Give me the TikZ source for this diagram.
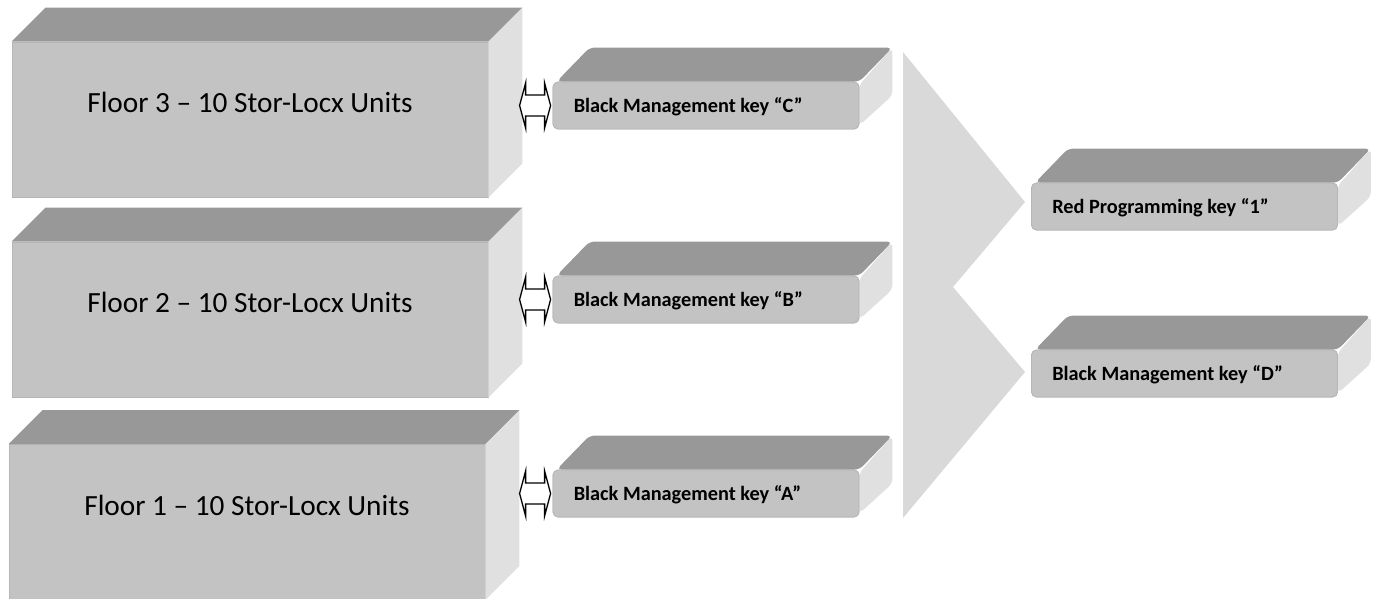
\documentclass[tikz,border=0pt]{standalone}
\usepackage{fontspec}
\setmainfont{Carlito}
\definecolor{topgray}{RGB}{152,152,152}
\definecolor{frontgray}{RGB}{195,195,195}
\definecolor{sidegray}{RGB}{224,224,224}
\definecolor{edgegray}{RGB}{182,182,182}
\definecolor{chevgray}{RGB}{217,217,217}
\begin{document}
\begin{tikzpicture}[x=1pt,y=1pt,
  floorfront/.style={rectangle,fill=frontgray,draw=edgegray,line width=0.8pt,
    minimum width=476pt,minimum height=155pt,inner sep=0pt},
  keyfront/.style={rectangle,rounded corners=5pt,fill=frontgray,draw=edgegray,line width=0.8pt,
    minimum width=306pt,minimum height=47pt,inner sep=0pt},
  topface/.style={fill=topgray},
  sideface/.style={fill=sidegray},
  floortext/.style={font=\fontsize{29.3}{35}\selectfont,inner sep=0pt,anchor=base},
  keytext/.style={font=\fontsize{20.3}{24}\selectfont\bfseries,inner sep=0pt,anchor=base west},
  dblarrow/.style={fill=white,draw=black,line width=1.3pt,line join=miter},
  chev/.style={fill=chevgray}
]
\useasboundingbox (0,0) rectangle (1377,-599);

% ---------- floor boxes ----------
\newcommand{\floorbox}[4]{% name, x, y, text
  \node[floorfront] (#1) at (#2,#3) {};
  \fill[topface] (#1.north west) -- ++(34,34) -- ([shift={(34,34)}]#1.north east) -- (#1.north east) -- cycle;
  \fill[sideface] (#1.north east) -- ++(34,34) -- ([shift={(34,34)}]#1.south east) -- (#1.south east) -- cycle;
  \node[floortext] (#1t) at ([yshift=-71pt]#1.north) {#4};
}
\floorbox{f3}{250}{-119.5}{Floor 3 – 10 Stor-Locx Units}
\floorbox{f2}{250}{-319.5}{Floor 2 – 10 Stor-Locx Units}
\floorbox{f1}{247}{-522}{Floor 1 – 10 Stor-Locx Units}

% ---------- key boxes ----------
\newcommand{\keybox}[4]{% name, x, y, text
  \node[keyfront] (#1) at (#2,#3) {};
  \fill[topface,rounded corners=5pt] ([xshift=4pt]#1.north west) -- ++(33,34) -- ([shift={(33,34)}]#1.north east) -- (#1.north east) -- cycle;
  \fill[sideface,rounded corners=5pt] ([yshift=-3pt]#1.north east) -- ++(33,37) -- ([shift={(33,34)}]#1.south east) -- ([yshift=4pt]#1.south east) -- cycle;
  \node[keyfront] at (#2,#3) {};
  \node[keytext] (#1t) at ([xshift=21pt,yshift=-7pt]#1.west) {#4};
}
\keybox{kC}{706}{-105.5}{Black Management key “C”}
\keybox{kB}{706}{-299.5}{Black Management key “B”}
\keybox{kA}{706}{-493.5}{Black Management key “A”}
\keybox{kR}{1184.5}{-206.5}{Red Programming key “1”}
\keybox{kD}{1184.5}{-373.5}{Black Management key “D”}

% ---------- double arrows between floors and keys ----------
\foreach \k in {kC,kB,kA}{
  \coordinate (a\k) at ([xshift=-17.5pt]\k.west);
  \draw[dblarrow] ([xshift=-15.5pt]a\k) -- ++(6,22.5) -- ++(0,-12) -- ++(19,0) -- ++(0,12)
     -- ++(6,-22.5) -- ++(-6,-22.5) -- ++(0,12) -- ++(-19,0) -- ++(0,-12) -- cycle;
}

% ---------- chevron ----------
\fill[chev] (903,-52) -- (1025,-202) -- (953,-287) -- (1025,-372) -- (903,-518) -- cycle;
\end{tikzpicture}
\end{document}
